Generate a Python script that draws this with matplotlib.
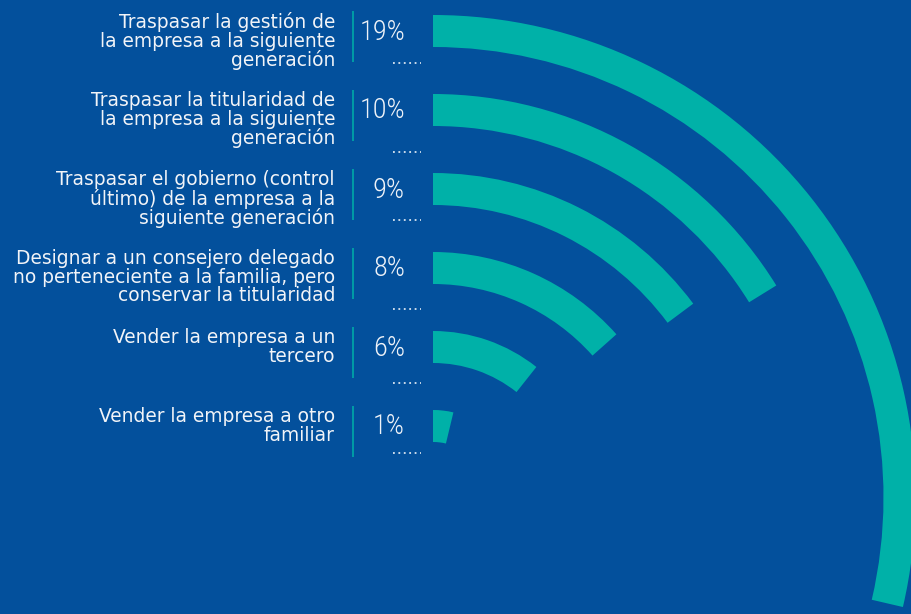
import matplotlib
matplotlib.use("Agg")
import matplotlib.pyplot as plt
from matplotlib.patches import Wedge

# ---- data ----
labels = [
    "Traspasar la gestión de\nla empresa a la siguiente\ngeneración",
    "Traspasar la titularidad de\nla empresa a la siguiente\ngeneración",
    "Traspasar el gobierno (control\núltimo) de la empresa a la\nsiguiente generación",
    "Designar a un consejero delegado\nno perteneciente a la familia, pero\nconservar la titularidad",
    "Vender la empresa a un\ntercero",
    "Vender la empresa a otro\nfamiliar",
]
values = [19, 10, 9, 8, 6, 1]
pct_labels = ["19%", "10%", "9%", "8%", "6%", "1%"]

# ---- style / layout ----
BG = "#03509c"
TEAL = "#00b1a8"
W, H = 911, 614
cx, cy = 433, 497.5          # centre of the concentric arcs (pixels)
r_outer0, step, thick = 482.5, 79, 32
ang0, ang_per = 8.5, 4.98     # degrees: angular scale of the radial bars
dot_offsets = [48, 58, 47, 57, 52, 43]

fig = plt.figure(figsize=(W / 100, H / 100), dpi=100, facecolor=BG)
ax = fig.add_axes([0, 0, 1, 1])
ax.set_facecolor(BG)
ax.set_xlim(0, W)
ax.set_ylim(H, 0)
ax.axis("off")

label_font = dict(family=["DejaVu Sans"], size=13.4, color="#f2f4f8")
pct_font = dict(family=["Roboto Condensed", "Liberation Sans Narrow", "DejaVu Sans"],
                weight="light", size=20.5, color="#eef2f8")

for i, (lab, v, p) in enumerate(zip(labels, values, pct_labels)):
    ro = r_outer0 - step * i
    sweep = ang0 + ang_per * v
    ax.add_patch(Wedge((cx, cy), ro, -90, -90 + sweep, width=thick,
                       facecolor=TEAL, edgecolor="none"))
    top = cy - ro
    mid = top + thick / 2
    ax.text(335, top - 3, lab, ha="right", va="top", multialignment="right",
            linespacing=0.98, **label_font)
    ax.text(405, mid + 1, p, ha="right", va="center", **pct_font)
    ax.plot([353, 353], [top - 4, top + 47], color=TEAL, lw=1.1,
            solid_capstyle="butt")
    dy = top + dot_offsets[i]
    ax.plot([393, 421], [dy, dy], color="white", lw=1.3, ls=(0, (1, 2.0)),
            alpha=0.85, solid_capstyle="butt", dash_capstyle="butt")

fig.savefig("out.png", dpi=100, facecolor=BG)
